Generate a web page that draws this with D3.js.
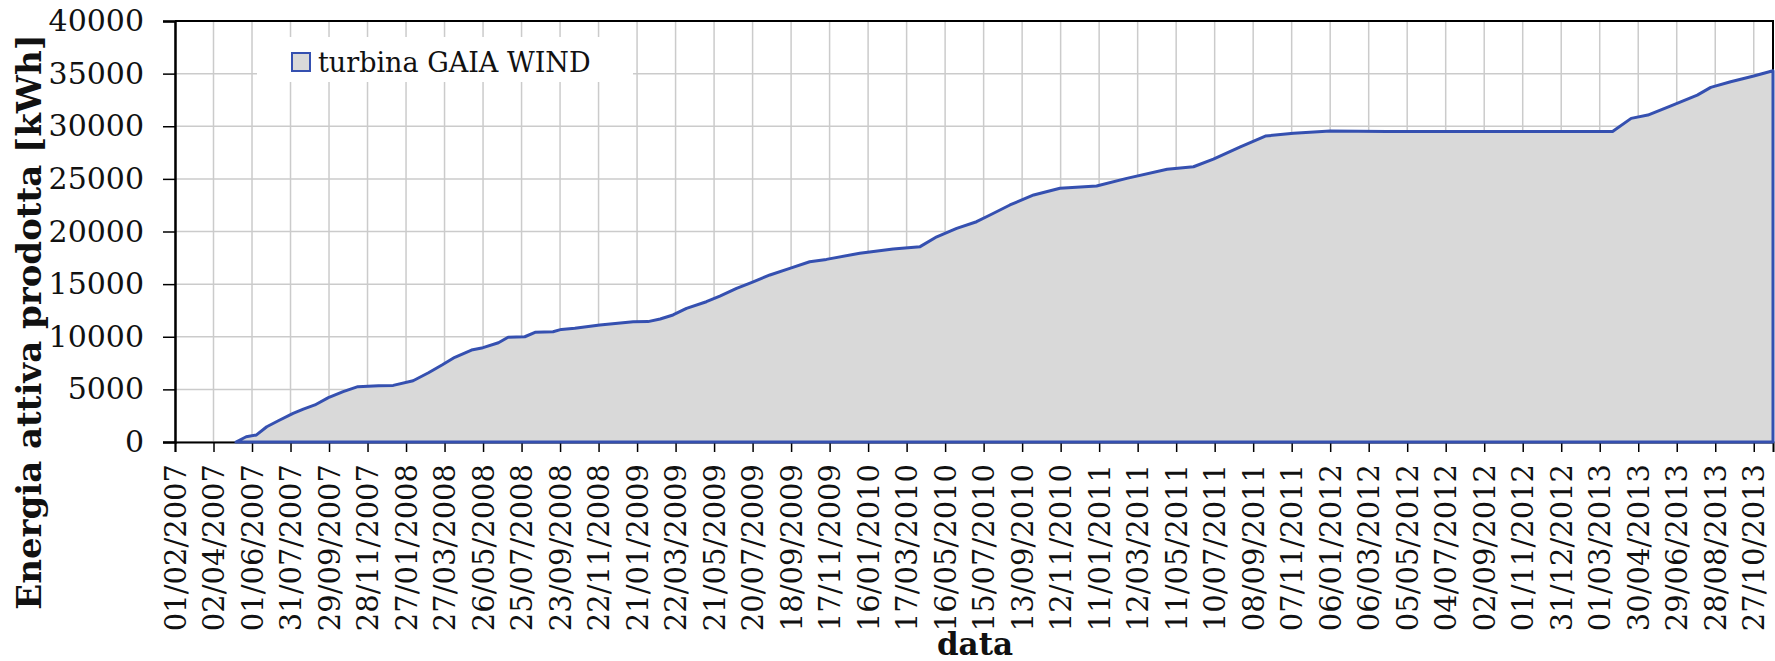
<!DOCTYPE html>
<html>
<head>
<meta charset="utf-8">
<style>
body { margin: 0; background: #fff; }
svg text { font-family: "DejaVu Serif", "Liberation Serif", serif; fill: #111; }
</style>
</head>
<body>
<svg width="1775" height="661"></svg>
<script src="https://cdnjs.cloudflare.com/ajax/libs/d3/7.8.5/d3.min.js"></script>
<script>
// cumulative energy
var dates = ["2007-05-07","2007-05-23","2007-06-08","2007-06-24","2007-07-12","2007-08-04","2007-08-20",
  "2007-09-07","2007-09-28","2007-10-21","2007-11-13","2007-12-15","2008-01-07","2008-02-07","2008-03-02",
  "2008-03-23","2008-04-12","2008-05-08","2008-05-26","2008-06-19","2008-07-04","2008-07-30","2008-08-15",
  "2008-09-12","2008-09-25","2008-10-16","2008-11-24","2009-01-15","2009-02-07","2009-02-26","2009-03-18",
  "2009-04-08","2009-05-09","2009-05-30","2009-06-25","2009-07-19","2009-08-16","2009-09-16","2009-10-17",
  "2009-11-12","2010-01-03","2010-02-24","2010-04-07","2010-05-03","2010-06-03","2010-07-04","2010-07-25",
  "2010-08-25","2010-10-01","2010-11-11","2011-01-07","2011-02-23","2011-04-27","2011-06-07","2011-07-08",
  "2011-08-19","2011-09-27","2011-11-10","2012-01-06","2012-04-03","2013-03-21","2013-04-19","2013-05-15",
  "2013-06-19","2013-07-31","2013-08-21","2013-09-21","2013-10-27","2013-11-26"];
var energy = [0,500,670,1450,2020,2720,3130,
  3520,4210,4780,5260,5350,5380,5820,6580,
  7310,8050,8740,8960,9430,9950,10000,10420,
  10480,10700,10800,11120,11430,11440,11690,12070,
  12700,13330,13870,14600,15170,15870,16500,17130,
  17350,17930,18340,18560,19500,20300,20930,21570,
  22520,23470,24110,24320,25050,25910,26150,26880,
  28050,29070,29330,29550,29500,29500,30750,31060,
  31920,32960,33690,34230,34770,35270];
var xTickLabels = ["01/02/2007","02/04/2007","01/06/2007","31/07/2007","29/09/2007","28/11/2007",
  "27/01/2008","27/03/2008","26/05/2008","25/07/2008","23/09/2008","22/11/2008","21/01/2009",
  "22/03/2009","21/05/2009","20/07/2009","18/09/2009","17/11/2009","16/01/2010","17/03/2010",
  "16/05/2010","15/07/2010","13/09/2010","12/11/2010","11/01/2011","12/03/2011","11/05/2011",
  "10/07/2011","08/09/2011","07/11/2011","06/01/2012","06/03/2012","05/05/2012","04/07/2012",
  "02/09/2012","01/11/2012","31/12/2012","01/03/2013","30/04/2013","29/06/2013","28/08/2013",
  "27/10/2013"];
var yTicks = [0,5000,10000,15000,20000,25000,30000,35000,40000];
var seriesName = "turbina GAIA WIND";

var parseIso = d3.timeParse("%Y-%m-%d");
var parseTick = d3.timeParse("%d/%m/%Y");
var data = dates.map(function(d, i) { return {date: parseIso(d), value: energy[i]}; });

var svg = d3.select("svg");
var plotL = 175, plotR = 1773, plotT = 21, plotB = 442; // plot area box

var x = d3.scaleTime()
    .domain([parseTick("01/02/2007"), parseIso("2013-11-26")])
    .range([plotL, plotR]);
var y = d3.scaleLinear()
    .domain([0, 40000])
    .range([plotB, plotT]);

// grid
var grid = svg.append("g").attr("stroke", "#cbcbcb").attr("stroke-width", 1.5);
grid.selectAll("line.v").data(xTickLabels).enter().append("line")
    .attr("x1", function(d) { return x(parseTick(d)); })
    .attr("x2", function(d) { return x(parseTick(d)); })
    .attr("y1", plotT).attr("y2", plotB);
grid.selectAll("line.h").data(yTicks).enter().append("line")
    .attr("x1", plotL).attr("x2", plotR)
    .attr("y1", function(d) { return y(d); })
    .attr("y2", function(d) { return y(d); });

// axes
var yAxis = svg.append("g")
    .attr("transform", "translate(" + plotL + ",0)")
    .call(d3.axisLeft(y).tickValues(yTicks).tickSize(12).tickPadding(19).tickFormat(d3.format("d")));
yAxis.select(".domain").attr("stroke", "#000").attr("stroke-width", 2.5);
yAxis.selectAll(".tick line").attr("stroke", "#000").attr("stroke-width", 1.5);
yAxis.selectAll("text").attr("font-size", 30).attr("font-family", "DejaVu Serif").attr("fill", "#111");

var xAxis = svg.append("g")
    .attr("transform", "translate(0," + plotB + ")")
    .call(d3.axisBottom(x).tickValues(xTickLabels.map(parseTick)).tickSize(10)
      .tickFormat(d3.timeFormat("%d/%m/%Y")));
xAxis.select(".domain").attr("stroke", "#000").attr("stroke-width", 2);
xAxis.selectAll(".tick line").attr("stroke", "#000").attr("stroke-width", 1.5);
xAxis.selectAll("text")
    .attr("font-size", 29).attr("font-family", "DejaVu Serif").attr("fill", "#111")
    .attr("text-anchor", "end")
    .attr("transform", "rotate(-90)")
    .attr("x", -22).attr("y", 0).attr("dy", "0.35em");

// top and right frame
svg.append("path")
    .attr("d", "M" + plotL + "," + plotT + "H" + plotR + "V" + plotB)
    .attr("fill", "none").attr("stroke", "#000").attr("stroke-width", 2);

// area series
var area = d3.area()
    .x(function(d) { return x(d.date); })
    .y0(y(0))
    .y1(function(d) { return y(d.value); });
svg.append("path")
    .datum(data)
    .attr("d", area)
    .attr("fill", "#d9d9d9")
    .attr("stroke", "#3550b0")
    .attr("stroke-width", 3)
    .attr("stroke-linejoin", "round");

// legend
var legend = svg.append("g");
legend.append("rect")
    .attr("x", 257).attr("y", 37).attr("width", 376).attr("height", 45)
    .attr("fill", "#fff");
legend.append("rect")
    .attr("x", 292).attr("y", 53).attr("width", 18).attr("height", 18)
    .attr("fill", "#d9d9d9").attr("stroke", "#3550b0").attr("stroke-width", 2);
legend.append("text")
    .attr("x", 318).attr("y", 72)
    .attr("font-size", 27)
    .text(seriesName);

// axis titles
svg.append("text")
    .attr("transform", "translate(41,322) rotate(-90)")
    .attr("text-anchor", "middle")
    .attr("font-size", 34).attr("font-weight", "bold")
    .text("Energia attiva prodotta [kWh]");
svg.append("text")
    .attr("x", 975).attr("y", 655)
    .attr("text-anchor", "middle")
    .attr("font-size", 31).attr("font-weight", "bold")
    .text("data");
</script>
</body>
</html>
